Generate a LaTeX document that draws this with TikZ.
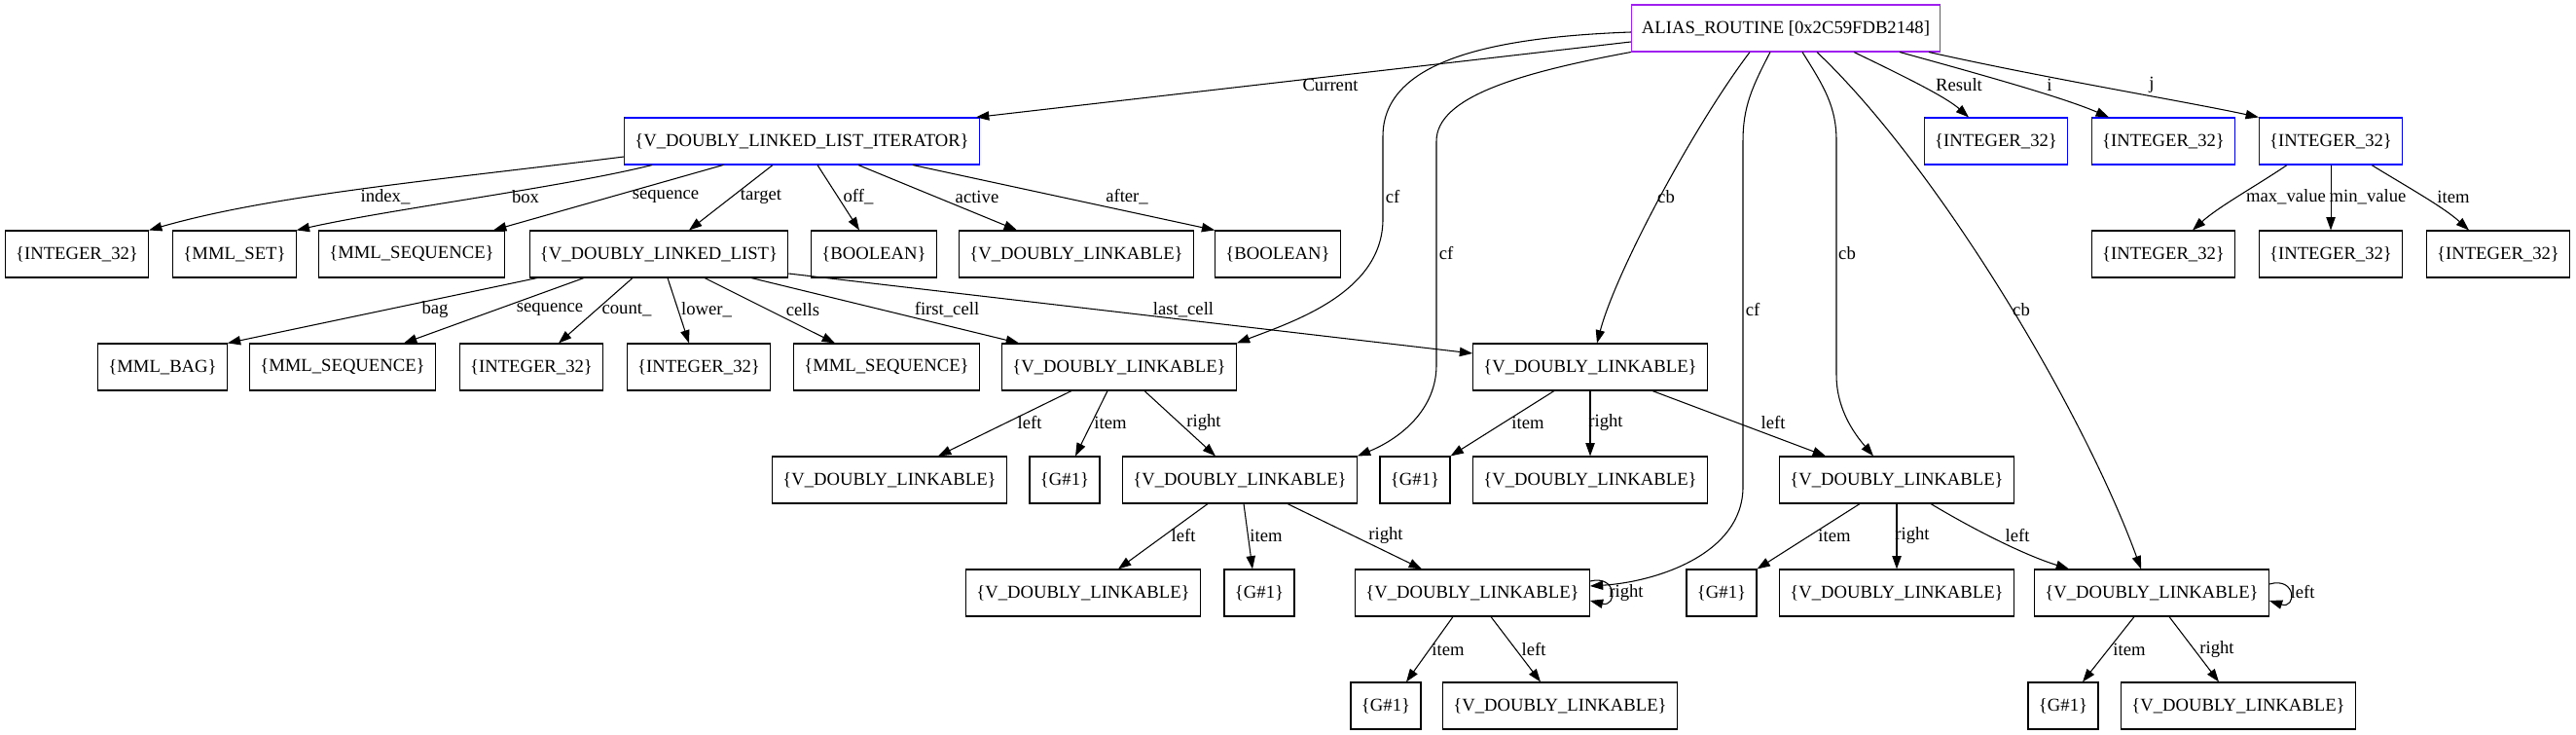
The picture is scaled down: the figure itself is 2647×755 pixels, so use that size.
\documentclass[tikz,border=0pt]{standalone}
\usepackage{fontspec}
\setmainfont{Liberation Serif}
\usepackage{tikz}
\usetikzlibrary{arrows.meta}
\definecolor{purple1}{RGB}{160,32,240}
\definecolor{blue1}{RGB}{0,0,255}
\newcommand{\vdl}{\{V\_DOUBLY\_LINKABLE\}}
\newcommand{\vint}{\{INTEGER\_32\}}
\newcommand{\vgen}{\{G\#1\}}

\begin{document}
\begin{tikzpicture}[x=0.75pt, y=-0.75pt, font=\fontsize{14pt}{16pt}\selectfont,
  obj/.style={draw, line width=0.8pt, minimum height=36pt, minimum width=54pt, inner xsep=8pt},
  arr/.style={line width=0.8pt, -{Triangle[length=10pt,width=7pt]}},
  lbl/.style={inner sep=0pt}]
\useasboundingbox (0,0) rectangle (2647,755);
% routine and its locals
\node[obj, draw=purple1] (alias) at (1835,29) {ALIAS\_ROUTINE [0x2C59FDB2148]};
\node[obj, draw=blue1] (iter) at (824,145) {\{V\_DOUBLY\_LINKED\_LIST\_ITERATOR\}};
\node[obj, draw=blue1] (res) at (2051,145) {\vint};
\node[obj, draw=blue1] (ii) at (2223,145) {\vint};
\node[obj, draw=blue1] (jj) at (2395,145) {\vint};
% second row
\node[obj] (int1) at (79,261) {\vint};
\node[obj] (mset) at (241,261) {\{MML\_SET\}};
\node[obj] (mseq1) at (423,261) {\{MML\_SEQUENCE\}};
\node[obj] (dll) at (677,261) {\{V\_DOUBLY\_LINKED\_LIST\}};
\node[obj] (bool1) at (898,261) {\{BOOLEAN\}};
\node[obj] (act) at (1106,261) {\vdl};
\node[obj] (bool2) at (1313,261) {\{BOOLEAN\}};
\node[obj] (maxv) at (2223,261) {\vint};
\node[obj] (minv) at (2395,261) {\vint};
\node[obj] (item0) at (2567,261) {\vint};
% third row
\node[obj] (bag) at (167,377) {\{MML\_BAG\}};
\node[obj] (mseq2) at (352,377) {\{MML\_SEQUENCE\}};
\node[obj] (cnt) at (546,377) {\vint};
\node[obj] (low) at (718,377) {\vint};
\node[obj] (mseq3) at (911,377) {\{MML\_SEQUENCE\}};
\node[obj] (fc) at (1150,377) {\vdl};
\node[obj] (lc) at (1634,377) {\vdl};
% fourth row
\node[obj] (fcl) at (914,493) {\vdl};
\node[obj] (fcg) at (1094,493) {\vgen};
\node[obj] (fcr) at (1274,493) {\vdl};
\node[obj] (lcg) at (1454,493) {\vgen};
\node[obj] (lcr) at (1634,493) {\vdl};
\node[obj] (lcl) at (1949,493) {\vdl};
% fifth row
\node[obj] (rl) at (1113,609) {\vdl};
\node[obj] (rg) at (1294,609) {\vgen};
\node[obj] (rr) at (1513,609) {\vdl};
\node[obj] (lg) at (1769,609) {\vgen};
\node[obj] (lr) at (1949,609) {\vdl};
\node[obj] (ll) at (2211,609) {\vdl};
% sixth row
\node[obj] (rrg) at (1424,725) {\vgen};
\node[obj] (rrl) at (1603,725) {\vdl};
\node[obj] (llg) at (2120,725) {\vgen};
\node[obj] (llr) at (2300,725) {\vdl};

% edges out of the routine
\draw[arr] (alias.west |- 0,43) -- (iter.north -| 1003,0) node[lbl] at (1367,87) {Current};
\draw[arr] (alias.west |- 0,33) .. controls (1540,38) and (1421,60) .. (1421,140) -- (1421,225) .. controls (1421,300) and (1330,330) .. (fc.north east) node[lbl] at (1431,202) {cf};
\draw[arr] (alias.south west) .. controls (1560,75) and (1476,100) .. (1476,145) -- (1476,375) .. controls (1476,420) and (1440,450) .. (fcr.north east) node[lbl] at (1486,260) {cf};
\draw[arr] (alias.south -| 1798,0) .. controls (1740,130) and (1660,280) .. (lc.north -| 1641,0) node[lbl] at (1712,202) {cb};
\draw[arr] (alias.south -| 1819,0) .. controls (1800,90) and (1791,110) .. (1791,145) -- (1791,500) .. controls (1791,570) and (1700,598) .. (rr.east |- 0,602) node[lbl] at (1801,318) {cf};
\draw[arr] (alias.south -| 1852,0) .. controls (1875,90) and (1887,110) .. (1887,145) -- (1887,385) .. controls (1887,420) and (1905,445) .. (lcl.north -| 1925,0) node[lbl] at (1898,260) {cb};
\draw[arr] (alias.south -| 1867,0) .. controls (1990,170) and (2140,420) .. (ll.north -| 2200,0) node[lbl] at (2077,318) {cb};
\draw[arr] (alias.south -| 1905,0) .. controls (1960,80) and (2000,100) .. (res.north -| 2023,0) node[lbl] at (2013,87) {Result};
\draw[arr] (alias.south -| 1952,0) .. controls (2030,75) and (2120,100) .. (ii.north -| 2167,0) node[lbl] at (2106,87) {i};
\draw[arr] (alias.south -| 1982,0) .. controls (2100,80) and (2250,105) .. (jj.north west) node[lbl] at (2211,87) {j};

% iterator
\draw[arr] (iter.west |- 0,161) .. controls (450,185) and (280,200) .. (int1.north east) node[lbl] at (396,202) {index\_};
\draw[arr] (iter.south -| 670,0) .. controls (580,192) and (400,215) .. (mset.north east) node[lbl] at (540,202) {box};
\draw[arr] (iter.south -| 743,0) -- (mseq1.north -| 507,0) node[lbl] at (684,202) {sequence};
\draw[arr] (iter.south -| 794,0) -- (dll.north -| 708,0) node[lbl] at (782,202) {target};
\draw[arr] (iter.south -| 840,0) -- (bool1.north -| 883,0) node[lbl] at (882,202) {off\_};
\draw[arr] (iter.south -| 882,0) -- (act.north -| 1045,0) node[lbl] at (1004,202) {active};
\draw[arr] (iter.south -| 938,0) -- (bool2.north west) node[lbl] at (1158,202) {after\_};

% list
\draw[arr] (dll.south -| 552,0) -- (bag.north east) node[lbl] at (447,318) {bag};
\draw[arr] (dll.south -| 600,0) -- (mseq2.north -| 415,0) node[lbl] at (565,318) {sequence};
\draw[arr] (dll.south -| 650,0) -- (cnt.north -| 574,0) node[lbl] at (644,318) {count\_};
\draw[arr] (dll.south -| 686,0) -- (low.north -| 708,0) node[lbl] at (726,318) {lower\_};
\draw[arr] (dll.south -| 724,0) -- (mseq3.north -| 858,0) node[lbl] at (825,318) {cells};
\draw[arr] (dll.south -| 772,0) -- (fc.north -| 1047,0) node[lbl] at (973,318) {first\_cell};
\draw[arr] (dll.east |- 0,281) -- (lc.west |- 0,363) node[lbl] at (1216,318) {last\_cell};

% cells
\draw[arr] (fc.south -| 1101,0) -- (fcl.north -| 964,0) node[lbl] at (1058,434) {left};
\draw[arr] (fc.south -| 1138,0) -- (fcg.north -| 1105,0) node[lbl] at (1141,434) {item};
\draw[arr] (fc.south -| 1176,0) -- (fcr.north -| 1249,0) node[lbl] at (1237,434) {right};
\draw[arr] (lc.south -| 1597,0) -- (lcg.north east) node[lbl] at (1570,434) {item};
\draw[arr] (lc.south) -- (lcr.north) node[lbl] at (1650,434) {right};
\draw[arr] (lc.south -| 1698,0) -- (lcl.north -| 1876,0) node[lbl] at (1822,434) {left};
\draw[arr] (fcr.south -| 1241,0) -- (rl.north -| 1149,0) node[lbl] at (1216,550) {left};
\draw[arr] (fcr.south -| 1278,0) -- (rg.north -| 1287,0) node[lbl] at (1301,550) {item};
\draw[arr] (fcr.south -| 1323,0) -- (rr.north -| 1461,0) node[lbl] at (1424,550) {right};
\draw[arr] (lcl.south -| 1911,0) -- (lg.north east) node[lbl] at (1885,550) {item};
\draw[arr] (lcl.south) -- (lr.north) node[lbl] at (1965,550) {right};
\draw[arr] (lcl.south -| 1984,0) .. controls (2030,545) and (2080,570) .. (ll.north -| 2126,0) node[lbl] at (2073,550) {left};
\draw[arr] (rr.south -| 1493,0) -- (rrg.north -| 1445,0) node[lbl] at (1488,667) {item};
\draw[arr] (rr.south -| 1532,0) -- (rrl.north -| 1583,0) node[lbl] at (1576,667) {left};
\draw[arr] (rr.east |- 0,597) .. controls (1662,590) and (1662,624) .. (rr.east |- 0,617) node[lbl] at (1671,609) {right};
\draw[arr] (ll.south -| 2193,0) -- (llg.north -| 2140,0) node[lbl] at (2188,667) {item};
\draw[arr] (ll.south -| 2229,0) -- (llr.north -| 2280,0) node[lbl] at (2278,667) {right};
\draw[arr] (ll.east |- 0,600) .. controls (2360,592) and (2360,626) .. (ll.east |- 0,617) node[lbl] at (2366,608) {left};

% integer j
\draw[arr] (jj.south -| 2350,0) .. controls (2320,190) and (2280,212) .. (maxv.north -| 2253,0) node[lbl] at (2349,202) {max\_value};
\draw[arr] (jj.south) -- (minv.north) node[lbl] at (2433,202) {min\_value};
\draw[arr] (jj.south -| 2437,0) .. controls (2470,190) and (2510,212) .. (item0.north -| 2537,0) node[lbl] at (2521,202) {item};
\end{tikzpicture}
\end{document}
